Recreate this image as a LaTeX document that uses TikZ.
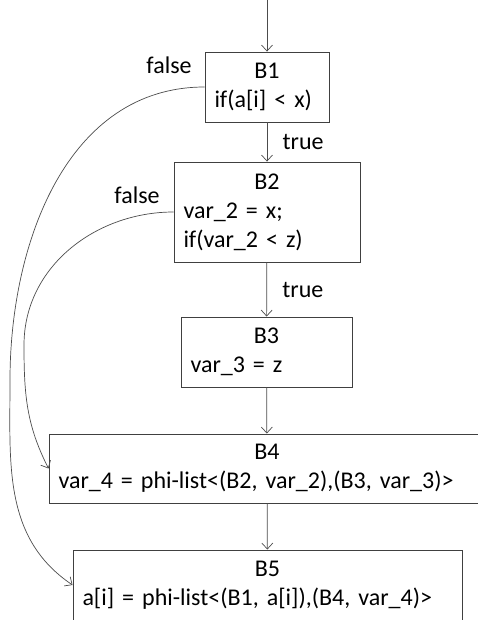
\documentclass[tikz,border=0pt]{standalone}
\usepackage{fontspec}
\setmainfont{Carlito}
\usepackage{tikz}
\usetikzlibrary{arrows.meta}
\newcommand{\blkfont}{\fontsize{24}{29}\selectfont\spaceskip=0.12em plus 0.02em}
\tikzset{
  blk/.style  ={draw=black!75, line width=0.9pt, fill=white,
                text width=#1, align=left, inner xsep=9.5pt,
                inner ysep=0pt, font=\blkfont},
  flow/.style ={-{Straight Barb[length=6pt,width=11pt]},
                line width=0.7pt, black!70},
  elbl/.style ={font=\blkfont, text=black},
}
\newcommand{\bhead}[1]{\makebox[\hsize]{#1}}

\begin{document}
\begin{tikzpicture}[x=1pt, y=-1pt]
  \useasboundingbox (0,0) rectangle (477,620);
  % basic blocks
  \node[blk=105pt, minimum height=70pt] (b1) at (267,87)
    {\bhead{B1}\\ if(a[i] < x)};
  \node[blk=167pt, minimum height=100pt] (b2) at (267,212)
    {\bhead{B2}\\ var\_2 = x;\\ if(var\_2 < z)};
  \node[blk=152pt, minimum height=70pt] (b3) at (266.5,352)
    {\bhead{B3}\\ var\_3 = z};
  \node[blk=417pt, minimum height=69pt] (b4) at (267,468.5)
    {\bhead{B4}\\ var\_4 = phi-list<(B2, var\_2),(B3, var\_3)>};
  \node[blk=370pt, minimum height=70pt] (b5) at (267.5,585)
    {\bhead{B5}\\ a[i] = phi-list<(B1, a[i]),(B4, var\_4)>};
  \coordinate (entry) at (267,-2);
  \coordinate (far1) at (10,380);
  \coordinate (far2) at (24,345);
  % edges
  \draw[flow] (entry) -- (b1.north);
  \draw[flow] (b1) -- (b2) node[elbl, pos=0.5, right=12pt] {true};
  \draw[flow] (b2) -- (b3) node[elbl, pos=0.5, right=12pt] {true};
  \draw[flow] (b3) -- (b4);
  \draw[flow] (b4) -- (b5);
  \draw[flow] (b1.west) to[out=180, in=90] (far1)
    to[out=-90, in=146] (b5.west);
  \draw[flow] (b2.west) to[out=180, in=90] (far2)
    to[out=-90, in=117] (b4.west);
  \node[elbl] at (169,65) {false};
  \node[elbl] at (137,195) {false};
\end{tikzpicture}
\end{document}
